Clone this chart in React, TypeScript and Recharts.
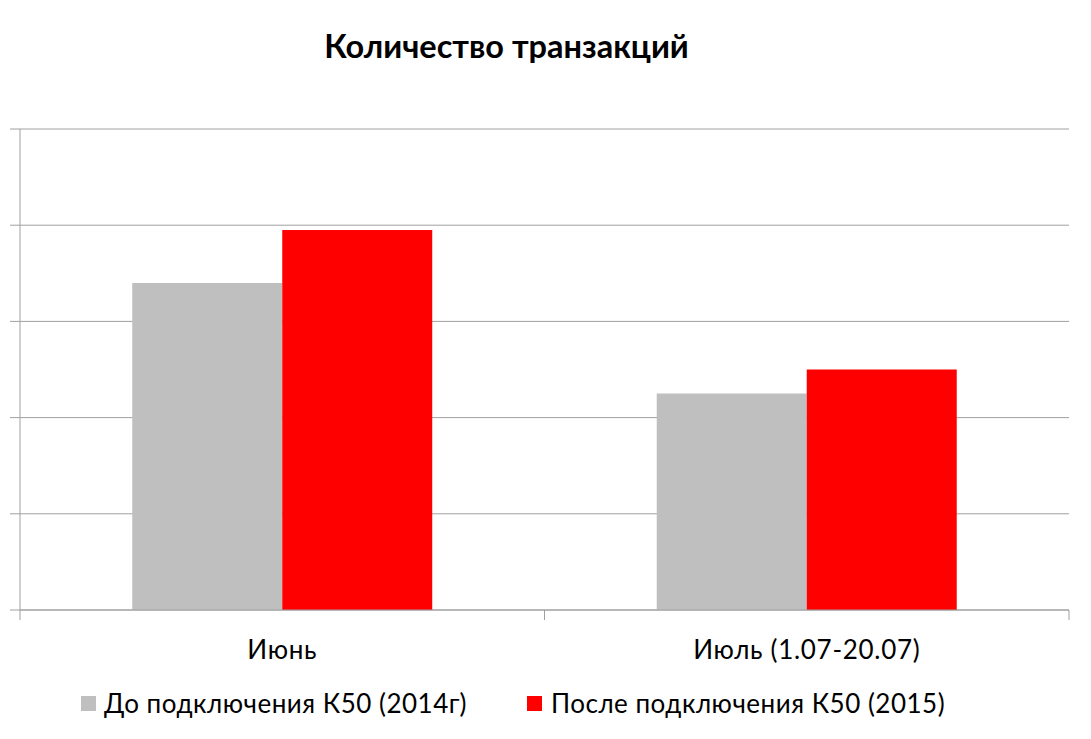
import React from 'react';
import { BarChart, Bar, XAxis, YAxis, CartesianGrid, Legend } from 'recharts';

const categories = ['Июнь', 'Июль (1.07-20.07)'];
const before2014 = [3.4, 2.25];
const after2015 = [3.95, 2.5];
const yTicks = [0, 1, 2, 3, 4, 5];
const seriesNames = ['До подключения К50 (2014г)', 'После подключения К50 (2015)'];

const data = categories.map((name, i) => ({
    name,
    before: before2014[i],
    after: after2015[i],
}));

const FONT = 'Lato, "Open Sans", sans-serif';
const GRID = '#a0a0a0';
const PLOT_BOTTOM = 610;

const XTick = (props: any) => {
    const { x, payload } = props;
    const half = payload?.offset || 262;
    return (
        <g>
            <line x1={x - half} x2={x - half} y1={PLOT_BOTTOM} y2={PLOT_BOTTOM + 10} stroke={GRID} />
            <line x1={x + half} x2={x + half} y1={PLOT_BOTTOM} y2={PLOT_BOTTOM + 10} stroke={GRID} />
            <text x={x} y={PLOT_BOTTOM + 49} textAnchor="middle" fontSize={26} letterSpacing={0.7} fill="#000" fontFamily={FONT}>
                {payload.value}
            </text>
        </g>
    );
};

const LegendContent = () => (
    <div style={{ display: 'flex', alignItems: 'center', height: 34, paddingLeft: 71, fontFamily: FONT, fontSize: 26, letterSpacing: 0.5, color: '#000' }}>
        <div style={{ display: 'flex', alignItems: 'center', width: 446 }}>
            <span style={{ width: 15, height: 15, background: '#bfbfbf', marginRight: 8, display: 'inline-block' }} />
            <span>{seriesNames[0]}</span>
        </div>
        <div style={{ display: 'flex', alignItems: 'center' }}>
            <span style={{ width: 15, height: 15, background: '#ff0000', marginRight: 9, display: 'inline-block' }} />
            <span>{seriesNames[1]}</span>
        </div>
    </div>
);

export default function App() {
    return (
        <div style={{ position: 'absolute', left: 0, top: 0, width: 1091, height: 739, background: '#fff' }}>
            <div style={{ position: 'absolute', left: 0, top: 26, width: 1013, textAlign: 'center', fontFamily: FONT, fontWeight: 'bold', fontSize: 32.5, lineHeight: 1.2, color: '#000' }}>
                Количество транзакций
            </div>
            <BarChart
                width={1091}
                height={739}
                data={data}
                margin={{ top: 129, right: 22, left: 10, bottom: 19 }}
                barCategoryGap="21.4%"
                barGap={0}
            >
                <CartesianGrid horizontal vertical={false} stroke={GRID} strokeWidth={1} />
                <XAxis
                    dataKey="name"
                    height={76}
                    axisLine={{ stroke: GRID }}
                    tickLine={false}
                    tick={<XTick />}
                    interval={0}
                />
                <YAxis
                    width={10}
                    domain={[0, 5]}
                    ticks={yTicks}
                    axisLine={{ stroke: GRID }}
                    tickLine={{ stroke: GRID }}
                    tickSize={10}
                    tick={() => <g />}
                />
                <Legend verticalAlign="bottom" content={<LegendContent />} />
                <Bar dataKey="before" name={seriesNames[0]} fill="#bfbfbf" isAnimationActive={false} />
                <Bar dataKey="after" name={seriesNames[1]} fill="#ff0000" isAnimationActive={false} />
            </BarChart>
        </div>
    );
}
